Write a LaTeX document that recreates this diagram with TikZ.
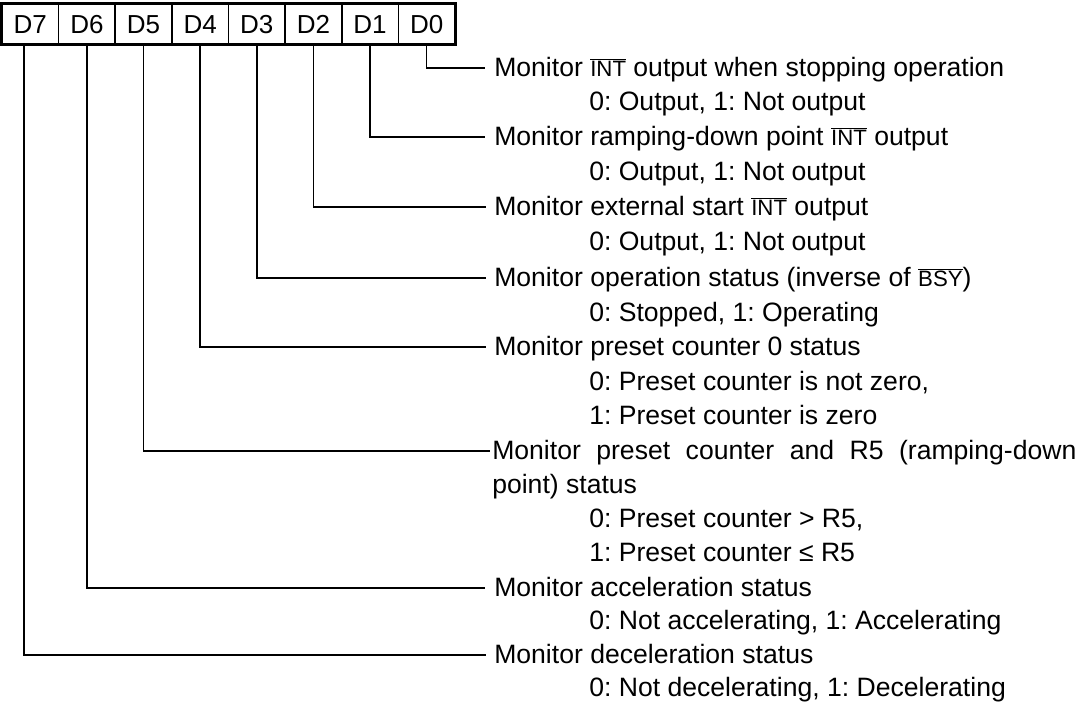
\documentclass[tikz,border=0pt]{standalone}
\usepackage{fontspec}
\setmainfont{Liberation Sans}
\usetikzlibrary{positioning}
\frenchspacing

% overlined signal name, set a bit smaller than the text around it
\newcommand{\sig}[1]{\setbox0=\hbox{\fontsize{15.8}{15.8}\selectfont #1}%
  \rlap{\rule[\dimexpr\ht0+0.8pt\relax]{\wd0}{0.5pt}}\box0\relax}

\tikzset{
  bitcell/.style={draw, line width=1.2pt, minimum width=1.415cm, minimum height=1cm,
    inner sep=0pt, text height=13.3pt, text depth=0pt, font=\fontsize{18.5}{18.5}\selectfont},
  desc/.style={anchor=base west, inner sep=0pt, font=\fontsize{18.9}{18.9}\selectfont},
  lead/.style={line width=1pt},
}

\begin{document}
\begin{tikzpicture}[x=0.025cm, y=-0.025cm]
    \useasboundingbox (0,0) rectangle (1086,705);

    % register bits
    \foreach \b in {7,6,...,0}
      \node[bitcell] (D\b) at ({2+56.625*(7.5-\b)},24) {D\b};
    \draw[line width=2.2pt] (D7.north west) rectangle (D0.south east);

    % descriptions
    \node[desc] (m0) at (494,76) {Monitor \sig{INT} output when stopping operation};
    \node[desc] (v0) at (589,110) {0: Output, 1: Not output};
    \node[desc] (m1) at (494,145) {Monitor ramping-down point \sig{INT} output};
    \node[desc] (v1) at (589,180) {0: Output, 1: Not output};
    \node[desc] (m2) at (494,215) {Monitor external start \sig{INT} output};
    \node[desc] (v2) at (589,250) {0: Output, 1: Not output};
    \node[desc] (m3) at (494,286) {Monitor operation status (inverse of \sig{BSY})};
    \node[desc] (v3) at (589,321) {0: Stopped, 1: Operating};
    \node[desc] (m4) at (494,355) {Monitor preset counter 0 status};
    \node[desc] (v4a) at (589,390) {0: Preset counter is not zero,};
    \node[desc] (v4b) at (589,424) {1: Preset counter is zero};
    \node[desc] (m5) at (492,459) {\makebox[14.6cm][s]{Monitor preset counter and R5 (ramping-down}};
    \node[desc] (m5b) at (492,493) {point) status};
    \node[desc] (v5a) at (589,527) {0: Preset counter > R5,};
    \node[desc] (v5b) at (589,561) {1: Preset counter ≤ R5};
    \node[desc] (m6) at (494,596) {Monitor acceleration status};
    \node[desc] (v6) at (589,629) {0: Not accelerating, 1: Accelerating};
    \node[desc] (m7) at (494,663) {Monitor deceleration status};
    \node[desc] (v7) at (589,696) {0: Not decelerating, 1: Decelerating};

    % leader lines
    \coordinate (e0) at (485,68);
    \coordinate (e1) at (485,137);
    \coordinate (e2) at (486,207);
    \coordinate (e3) at (486,278);
    \coordinate (e4) at (486,347);
    \coordinate (e5) at (490,451);
    \coordinate (e6) at (485,588);
    \coordinate (e7) at (486,655);
    \draw[lead] (D0.south) |- (e0);
    \draw[lead] (D1.south) |- (e1);
    \draw[lead] (D2.south) |- (e2);
    \draw[lead] (D3.south) |- (e3);
    \draw[lead] (D4.south) |- (e4);
    \draw[lead] (D5.south) |- (e5);
    \draw[lead] (D6.south) |- (e6);
    \draw[lead] ([xshift=-0.155cm]D7.south) |- (e7);
  \end{tikzpicture}
\end{document}
